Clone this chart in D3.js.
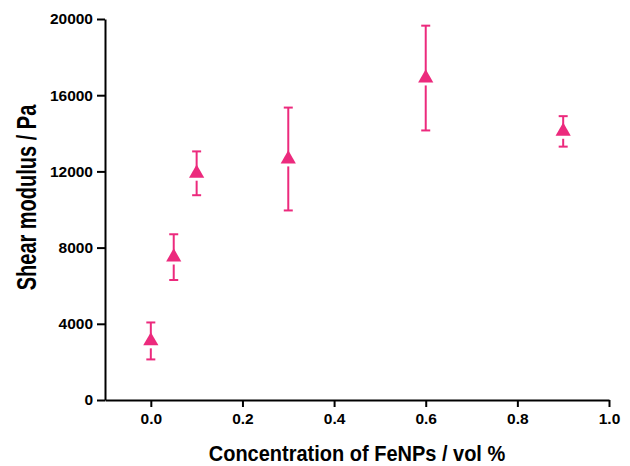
<!DOCTYPE html>
<html>
<head>
<meta charset="utf-8">
<script src="https://cdn.jsdelivr.net/npm/d3@7"></script>
<style>
  body { margin: 0; background: #fff; }
  text { font-family: "Liberation Sans", Arial, sans-serif; font-weight: bold; }
</style>
</head>
<body>
<div id="chart"></div>
<script>
const concentration = [0, 0.05, 0.1, 0.3, 0.6, 0.9];
const modulus = [3100, 7500, 11900, 12650, 16900, 14100];
const modulusErr = [970, 1200, 1150, 2700, 2750, 800];

const xMajor = [0, 0.2, 0.4, 0.6, 0.8, 1.0];
const xMinor = [0.1, 0.3, 0.5, 0.7, 0.9];
const yMajor = [0, 4000, 8000, 12000, 16000, 20000];
const yMinor = [2000, 6000, 10000, 14000, 18000];

const data = concentration.map((c, i) => ({x: c, y: modulus[i], e: modulusErr[i]}));

const width = 630, height = 466;
const margin = {top: 19, right: 21, bottom: 66, left: 105};
const pink = '#ec2a7d';

const svg = d3.select('#chart').append('svg')
    .attr('width', width)
    .attr('height', height);

const xScale = d3.scaleLinear()
    .domain([-0.1, 1.0])
    .range([margin.left, width - margin.right]);

const yScale = d3.scaleLinear()
    .domain([0, 20000])
    .range([height - margin.bottom, margin.top]);

const xAxis = d3.axisBottom(xScale)
    .tickValues(xMajor)
    .tickFormat(d3.format('.1f'))
    .tickSize(7)
    .tickPadding(6)
    .tickSizeOuter(0);

const xAxisMinor = d3.axisBottom(xScale)
    .tickValues(xMinor)
    .tickFormat('')
    .tickSize(4)
    .tickSizeOuter(0);

const yAxis = d3.axisLeft(yScale)
    .tickValues(yMajor)
    .tickFormat(d => d)
    .tickSize(8)
    .tickPadding(4)
    .tickSizeOuter(0);

const yAxisMinor = d3.axisLeft(yScale)
    .tickValues(yMinor)
    .tickFormat('')
    .tickSize(5)
    .tickSizeOuter(0);

const gx = svg.append('g')
    .attr('transform', `translate(0, ${height - margin.bottom})`);
gx.call(xAxisMinor);
gx.call(xAxis);

const gy = svg.append('g')
    .attr('transform', `translate(${margin.left}, 0)`);
gy.call(yAxisMinor);
gy.call(yAxis);

svg.selectAll('.domain, .tick line')
    .attr('stroke', '#000')
    .attr('stroke-width', 2);
svg.selectAll('.tick text')
    .attr('fill', '#000')
    .style('font-size', '15.5px');

// error bars, split around the marker
const capW = 4.5;
const triSize = 100;
const triH = Math.sqrt(triSize * 4 / Math.sqrt(3)) * Math.sqrt(3) / 2;

const bars = svg.append('g')
    .attr('stroke', pink)
    .attr('stroke-width', 2)
    .selectAll('g')
    .data(data)
    .enter()
    .append('g');

bars.append('line')
    .attr('x1', d => xScale(d.x))
    .attr('x2', d => xScale(d.x))
    .attr('y1', d => yScale(d.y + d.e))
    .attr('y2', d => yScale(d.y));

bars.append('line')
    .attr('x1', d => xScale(d.x))
    .attr('x2', d => xScale(d.x))
    .attr('y1', d => yScale(d.y) + triH / 3 + 3)
    .attr('y2', d => yScale(d.y - d.e));

bars.append('line')
    .attr('x1', d => xScale(d.x) - capW)
    .attr('x2', d => xScale(d.x) + capW)
    .attr('y1', d => yScale(d.y + d.e))
    .attr('y2', d => yScale(d.y + d.e));

bars.append('line')
    .attr('x1', d => xScale(d.x) - capW)
    .attr('x2', d => xScale(d.x) + capW)
    .attr('y1', d => yScale(d.y - d.e))
    .attr('y2', d => yScale(d.y - d.e));

svg.append('g')
    .selectAll('path')
    .data(data)
    .enter()
    .append('path')
    .attr('d', d3.symbol().type(d3.symbolTriangle).size(triSize))
    .attr('transform', d => `translate(${xScale(d.x)}, ${yScale(d.y)})`)
    .attr('fill', pink);

svg.append('text')
    .attr('transform', `translate(${(xScale(-0.1) + xScale(1.0)) / 2}, 461) scale(1, 1.08)`)
    .attr('text-anchor', 'middle')
    .style('font-size', '20px')
    .text('Concentration of FeNPs / vol %');

svg.append('text')
    .attr('transform', 'translate(36, 197.5) rotate(-90) scale(1, 1.4)')
    .attr('text-anchor', 'middle')
    .style('font-size', '20px')
    .text('Shear modulus / Pa');
</script>
</body>
</html>
